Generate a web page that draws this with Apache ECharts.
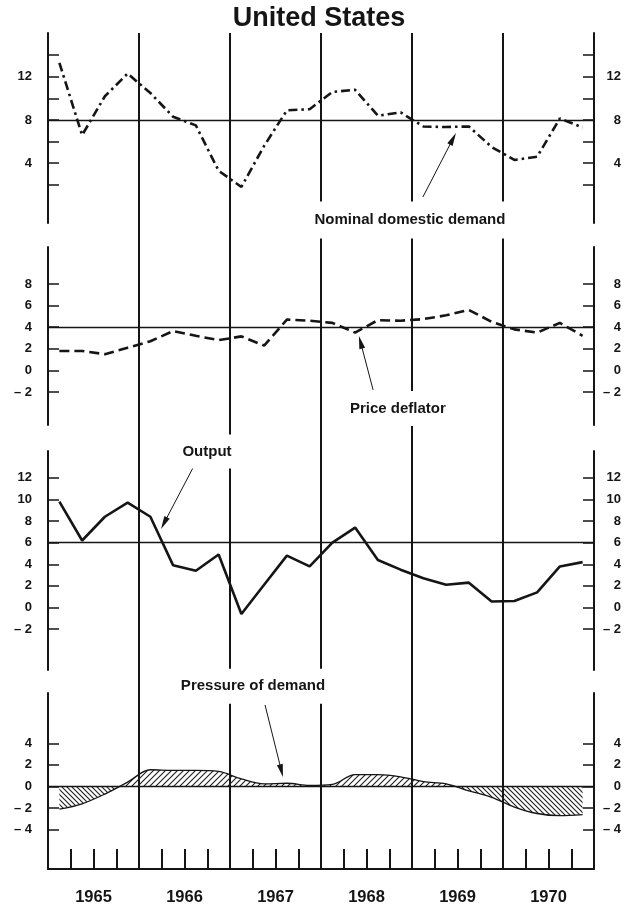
<!DOCTYPE html>
<html>
<head>
<meta charset="utf-8">
<title>United States</title>
<script src="https://cdn.jsdelivr.net/npm/echarts@6/dist/echarts.min.js"></script>
<style>
  html, body { margin: 0; padding: 0; background: #ffffff; }
  #chart { width: 638px; height: 906px; }
</style>
</head>
<body>
<div id="chart"></div>
<script>
// Quarterly percentage changes, 1965 Q1 – 1970 Q4
const years = ['1965', '1966', '1967', '1968', '1969', '1970'];
const quarters = [];
years.forEach(function (y) { for (let q = 1; q <= 4; q++) quarters.push(y + ' Q' + q); });

const nominalDemand = [13.3, 6.6, 10.2, 12.3, 10.5, 8.3, 7.5, 3.3, 1.8, 5.6, 8.9, 9.0,
                       10.6, 10.8, 8.4, 8.7, 7.4, 7.35, 7.4, 5.5, 4.3, 4.6, 8.15, 7.3];
const priceDeflator = [1.8, 1.8, 1.5, 2.1, 2.7, 3.65, 3.2, 2.8, 3.15, 2.3, 4.7, 4.6,
                       4.4, 3.5, 4.65, 4.6, 4.75, 5.1, 5.6, 4.5, 3.8, 3.5, 4.4, 3.2];
const output = [9.8, 6.2, 8.4, 9.7, 8.4, 3.9, 3.4, 4.9, -0.6, 2.1, 4.8, 3.8,
                6.0, 7.4, 4.4, 3.5, 2.7, 2.1, 2.3, 0.55, 0.6, 1.4, 3.8, 4.2];
const pressure = [-2.1, -1.6, -0.7, 0.4, 1.55, 1.5, 1.5, 1.4, 0.7, 0.25, 0.3, 0.1,
                  0.2, 1.1, 1.1, 0.9, 0.45, 0.25, -0.4, -1.0, -1.9, -2.5, -2.7, -2.6];

// Reference levels drawn across each panel
const nominalRef = 8;
const priceRef = 4;
const outputRef = 6;
const pressureRef = 0;

// Tick and label values for each panel's vertical scale
const nominalTicks = [2, 4, 6, 8, 10, 12, 14];
const nominalLabels = [4, 8, 12];
const priceTicks = [-2, 0, 2, 4, 6, 8];
const outputTicks = [-2, 0, 2, 4, 6, 8, 10, 12];
const pressureTicks = [-4, -2, 0, 2, 4];

// Inner year boundaries (start of 1966 ... start of 1970)
const yearBreakFirst = 1966;
const yearBreakLast = 1970;

const INK = '#151515';
const SANS = "'Liberation Sans',Arial,Helvetica,sans-serif";

function fmt(v) { return v < 0 ? '\u2013 ' + Math.abs(v) : String(v); }

function panelAxes(gridIndex, min, max, ticks, labels) {
  function side(pos) {
    return {
      type: 'value', gridIndex: gridIndex, position: pos, min: min, max: max,
      axisLine: { show: true, onZero: false, lineStyle: { color: INK, width: 2 } },
      axisTick: { show: true, inside: true, length: 11, customValues: ticks,
                  lineStyle: { color: INK, width: 1.5 } },
      axisLabel: { show: true, customValues: labels, formatter: fmt,
                   margin: pos === 'left' ? 16 : 27, align: 'right',
                   color: INK, fontFamily: SANS, fontSize: 13, fontWeight: 'bold' },
      splitLine: { show: false }
    };
  }
  return [side('left'), side('right')];
}

function hatch(forward, step, lw) {
  const c = document.createElement('canvas');
  c.width = step; c.height = step;
  const g = c.getContext('2d');
  g.strokeStyle = '#1e1e1e';
  g.lineWidth = lw;
  g.beginPath();
  if (forward) {
    g.moveTo(-1, step + 1); g.lineTo(step + 1, -1);
    g.moveTo(-1, 1); g.lineTo(1, -1);
    g.moveTo(step - 1, step + 1); g.lineTo(step + 1, step - 1);
  } else {
    g.moveTo(-1, -1); g.lineTo(step + 1, step + 1);
    g.moveTo(step - 1, -1); g.lineTo(step + 1, 1);
    g.moveTo(-1, step - 1); g.lineTo(1, step + 1);
  }
  g.stroke();
  return c;
}

function note(text, coord, padding, offset) {
  return {
    coord: coord, symbol: 'rect', symbolSize: 1,
    itemStyle: { color: 'rgba(0,0,0,0)' },
    label: {
      show: true, position: 'inside', offset: offset || [0, 0], formatter: text,
      color: INK, fontFamily: SANS, fontSize: 15, fontWeight: 'bold',
      backgroundColor: '#ffffff', padding: padding
    }
  };
}

function pointer(from, to) {
  return [
    { coord: from, symbol: 'none' },
    { coord: to, symbol: 'path://M0,0L4,14L-4,14Z', symbolSize: [6, 13] }
  ];
}

function refLine(v) {
  return { yAxis: v, symbol: 'none', lineStyle: { color: INK, width: 1.3, type: 'solid' } };
}

function marks(ref, arrowFrom, arrowTo, labelText, labelCoord, padding, offset) {
  return {
    markLine: {
      silent: true, animation: false, symbol: ['none', 'none'],
      lineStyle: { color: INK, width: 1, type: 'solid' },
      label: { show: false }, emphasis: { disabled: true },
      data: [refLine(ref), pointer(arrowFrom, arrowTo)]
    },
    markPoint: {
      silent: true, animation: false,
      data: [note(labelText, labelCoord, padding, offset)]
    }
  };
}

function xy(arr) { return arr.map(function (v, i) { return [i, v]; }); }

const gridBase = { outerBoundsMode: 'none', containLabel: false };
const grid = [
  { left: 48, width: 546, top: 33, height: 836 },    // frame: base line, quarter ticks, year labels
  { left: 139, width: 364, top: 33, height: 836 },   // year boundaries
  { left: 48, width: 546, top: 33, height: 190 },    // nominal domestic demand
  { left: 48, width: 546, top: 247, height: 178 },   // price deflator
  { left: 48, width: 546, top: 451, height: 219 },   // output
  { left: 48, width: 546, top: 693, height: 176 },   // pressure of demand
  { left: 48, width: 546, top: 693, height: 93.5 },  // pressure above zero
  { left: 48, width: 546, top: 786.5, height: 82.5 } // pressure below zero
].map(function (g) { return Object.assign({}, gridBase, g); });

const xAxis = [
  { type: 'category', gridIndex: 0, data: years, boundaryGap: true, position: 'bottom',
    axisLine: { show: true, onZero: false, lineStyle: { color: INK, width: 2 } },
    axisTick: { show: false },
    axisLabel: { margin: 20, color: INK, fontFamily: SANS, fontSize: 16.5, fontWeight: 'bold' },
    splitLine: { show: false } },
  { type: 'category', gridIndex: 0, data: quarters, boundaryGap: true, position: 'bottom',
    axisLine: { show: false },
    axisTick: { show: true, inside: true, length: 20, interval: 0, lineStyle: { color: INK, width: 2 } },
    axisLabel: { show: false }, splitLine: { show: false } },
  { type: 'value', gridIndex: 1, min: yearBreakFirst, max: yearBreakLast, interval: 1, position: 'bottom',
    axisLine: { show: false }, axisTick: { show: false }, axisLabel: { show: false },
    splitLine: { show: true, lineStyle: { color: INK, width: 2 } } }
];
for (let g = 2; g <= 7; g++) {
  xAxis.push({ type: 'value', gridIndex: g, min: -0.5, max: 23.5, show: false });
}

const yAxis = [
  { type: 'value', gridIndex: 0, min: 0, max: 1, show: false },
  { type: 'value', gridIndex: 1, min: 0, max: 1, show: false }
].concat(
  panelAxes(2, -1.54, 16.06, nominalTicks, nominalLabels),
  panelAxes(3, -5.06, 11.43, priceTicks, priceTicks),
  panelAxes(4, -5.79, 14.49, outputTicks, outputTicks),
  panelAxes(5, -7.64, 8.66, pressureTicks, pressureTicks),
  [
    { type: 'value', gridIndex: 6, min: 0, max: 8.66, show: false },
    { type: 'value', gridIndex: 7, min: -7.64, max: 0, show: false }
  ]
);

const lineBase = { type: 'line', symbol: 'none', showSymbol: false, silent: true, animation: false, z: 3 };

const series = [
  Object.assign({}, lineBase, {
    name: 'Nominal domestic demand', xAxisIndex: 3, yAxisIndex: 2, data: xy(nominalDemand),
    lineStyle: { color: INK, width: 2.6, type: [9, 4, 2.5, 4] }
  }, marks(nominalRef, [15.98, 0.87], [17.30, 6.26], 'Nominal domestic demand', [15.41, -1.26], [11, 4])),
  Object.assign({}, lineBase, {
    name: 'Price deflator', xAxisIndex: 4, yAxisIndex: 4, data: xy(priceDeflator),
    lineStyle: { color: INK, width: 2.6, type: [10, 5] }
  }, marks(priceRef, [13.79, -1.81], [13.24, 2.6], 'Price deflator', [14.88, -3.53], [9, 4, 11, 4])),
  Object.assign({}, lineBase, {
    name: 'Output', xAxisIndex: 5, yAxisIndex: 6, data: xy(output),
    lineStyle: { color: INK, width: 2.6, type: 'solid' }
  }, marks(outputRef, [5.87, 12.92], [4.60, 7.81], 'Output', [6.49, 14.2], [11, 4, 8, 4], [0, -2.6])),
  Object.assign({}, lineBase, {
    name: 'Pressure of demand', xAxisIndex: 6, yAxisIndex: 8, data: xy(pressure), smooth: 0.35,
    lineStyle: { color: INK, width: 1.3, type: 'solid' }
  }, marks(pressureRef, [9.04, 7.55], [9.76, 1.46], 'Pressure of demand', [8.51, 8.0], [12, 4, 8, 4], [0, -14])),
  Object.assign({}, lineBase, {
    name: 'excess', xAxisIndex: 7, yAxisIndex: 10, data: xy(pressure), smooth: 0.35, clip: true, z: 2,
    lineStyle: { width: 0, opacity: 0 },
    areaStyle: { origin: 0, opacity: 1, color: { image: hatch(true, 6, 1.1), repeat: 'repeat' } }
  }),
  Object.assign({}, lineBase, {
    name: 'slack', xAxisIndex: 8, yAxisIndex: 11, data: xy(pressure), smooth: 0.35, clip: true, z: 2,
    lineStyle: { width: 0, opacity: 0 },
    areaStyle: { origin: 0, opacity: 1, color: { image: hatch(false, 5, 1.1), repeat: 'repeat' } }
  })
];

const chart = echarts.init(document.getElementById('chart'), null, { renderer: 'canvas' });
chart.setOption({
  animation: false,
  backgroundColor: '#ffffff',
  title: {
    text: 'United States', left: 'center', top: 0,
    textStyle: { color: INK, fontFamily: SANS, fontSize: 27, fontWeight: 'bold' }
  },
  grid: grid,
  xAxis: xAxis,
  yAxis: yAxis,
  series: series
});
</script>
</body>
</html>
